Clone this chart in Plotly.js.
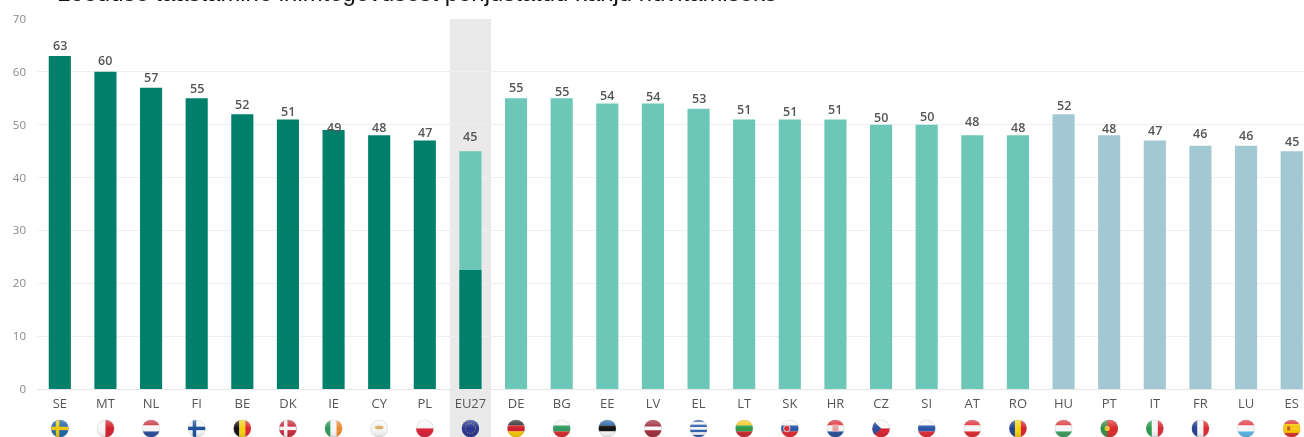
<!DOCTYPE html>
<html><head><meta charset="utf-8">
<script src="https://cdn.plot.ly/plotly-3.0.1.min.js"></script>
<style>html,body{margin:0;padding:0;background:#fff;overflow:hidden}#c{width:1304px;height:437px;filter:blur(0.45px)}</style>
</head><body><div id="c"></div>
<script>
const categories=["SE","MT","NL","FI","BE","DK","IE","CY","PL","EU27","DE","BG","EE","LV","EL","LT","SK","HR","CZ","SI","AT","RO","HU","PT","IT","FR","LU","ES"];
const values=[63,60,57,55,52,51,49,48,47,45,55,55,54,54,53,51,51,51,50,50,48,48,52,48,47,46,46,45];
const euDarkPart=22.5;
const titleText="Looduse taastamine inimtegevusest põhjustatud kahju hüvitamiseks";
const yTicks=[0,10,20,30,40,50,60,70];
const labelLift=[11,11,10,10,10,8,3,8,8,15,11,7,8,7,10,10,8,10,7,8,14,8,9,7,10,12,10,10];
const W="#f6f6f6";
const flagStripes={
SE:["x","#1b66a8","#f2c40c"],MT:["l",W,"#d3212d"],NL:["h","#c8323c",W,"#2a4d9b"],FI:["x",W,"#1d4f9c"],
BE:["v","#111","#f5d20f","#e0252f"],DK:["x","#c8283a",W],IE:["v","#2b9a5a",W,"#ee8a2d"],CY:["h",W],
PL:["h",W,"#d91f35"],EU27:["h","#26348f"],DE:["h","#2a2a2a","#d0202a","#f6c800"],BG:["h",W,"#2f9b5e","#d62a2a"],
EE:["h","#1f63a7","#111",W],LV:["h","#9e2a3a","#9e2a3a",W,"#9e2a3a","#9e2a3a"],EL:["h","#2f5fb0",W,"#2f5fb0",W,"#2f5fb0",W,"#2f5fb0"],LT:["h","#f5c81e","#2f9b4a","#c8282e"],
SK:["h",W,"#2a55a8","#dc2a32"],HR:["h","#dc2a32",W,"#2a4d9b"],CZ:["h",W,"#d6222e"],SI:["h",W,"#2a55a8","#dc2a32"],
AT:["h","#dc2a32",W,"#dc2a32"],RO:["v","#23408f","#f6d20f","#d6222e"],HU:["h","#d8353c",W,"#3c9a5c"],PT:["l","#2f8f45","#dc2a2a"],
IT:["v","#2b9a4e",W,"#dc2a32"],FR:["v","#23408f",W,"#dc2a32"],LU:["h","#e0353c",W,"#5bb4e6"],ES:["h","#d6302a","#f6c400","#f6c400","#d6302a"]};
const dark="#00806a",mid="#6cc7b6",blue="#a2c8d3";
function colorFor(i){return i<9?dark:i<22?mid:blue;}
function flagUri(code){
 const f=flagStripes[code],t=f[0],c=f.slice(1),n=c.length;let b="";
 if(t==="h")b=c.map((k,i)=>`<rect x="0" y="${i*18/n}" width="18" height="${18/n+0.1}" fill="${k}"/>`).join("");
 if(t==="v")b=c.map((k,i)=>`<rect x="${i*18/n}" y="0" width="${18/n+0.1}" height="18" fill="${k}"/>`).join("");
 if(t==="l")b=`<rect width="18" height="18" fill="${c[0]}"/><rect x="${code==='PT'?7:9}" width="11" height="18" fill="${c[1]}"/>`;
 if(t==="x")b=`<rect width="18" height="18" fill="${c[0]}"/><rect x="5" width="3.5" height="18" fill="${c[1]}"/><rect y="7.2" width="18" height="3.5" fill="${c[1]}"/>`;
 if(code==="CZ")b+=`<path d="M0 0L9 9L0 18Z" fill="#2a4d9b"/>`;
 if(code==="CY")b+=`<ellipse cx="9" cy="8" rx="4.5" ry="2" fill="#d9b26a"/>`;
 if(code==="EU27")b+=`<circle cx="9" cy="9" r="5" fill="none" stroke="#c9b84a" stroke-width="0.8" stroke-dasharray="1 1.6"/>`;
 if(code==="SK")b+=`<circle cx="6" cy="9" r="3.2" fill="#dc2a32" stroke="${W}" stroke-width=".8"/>`;
 if(code==="HR")b+=`<rect x="6" y="5" width="6" height="7" fill="#e8a0a0"/>`;
 if(code==="PT")b+=`<circle cx="7" cy="9" r="2.6" fill="#e8c33a"/>`;
 if(code==="ES")b+=`<rect x="4.5" y="7" width="3" height="4" fill="#c8502a"/>`;
 const s=`<svg xmlns="http://www.w3.org/2000/svg" width="18" height="18" viewBox="0 0 18 18"><defs><clipPath id="k"><circle cx="9" cy="9" r="8.8"/></clipPath><linearGradient id="g" x1="0" y1="0" x2="0" y2="1"><stop offset="0" stop-color="#fff" stop-opacity=".35"/><stop offset=".5" stop-color="#fff" stop-opacity="0"/><stop offset="1" stop-color="#000" stop-opacity=".12"/></linearGradient></defs><g clip-path="url(#k)">${b}<rect width="18" height="18" fill="url(#g)"/></g><circle cx="9" cy="9" r="8.6" fill="none" stroke="#999" stroke-opacity=".35" stroke-width=".6"/></svg>`;
 return "data:image/svg+xml;base64,"+btoa(s);
}
const bars={type:"bar",x:categories,y:values,width:0.485,marker:{color:categories.map((c,i)=>colorFor(i)),line:{width:0}},hoverinfo:"none"};
const euBar={type:"bar",x:["EU27"],y:[euDarkPart],width:0.485,marker:{color:dark,line:{width:0}},hoverinfo:"none"};
const valueNotes=categories.map((c,i)=>({xref:"x",yref:"y",x:c,y:values[i],yshift:labelLift[i],xanchor:"center",yanchor:"middle",showarrow:false,text:String(values[i]),font:{family:"Open Sans",size:12.5,color:"#555555",weight:600}}));
const titleNote={xref:"paper",yref:"paper",x:0,xshift:18,y:1,yshift:11,xanchor:"left",yanchor:"bottom",showarrow:false,text:titleText,font:{family:"Liberation Sans",size:23.9,color:"#111"}};
const layout={width:1304,height:437,margin:{l:36.5,r:0,t:19,b:47.5},paper_bgcolor:"#fff",plot_bgcolor:"#fff",showlegend:false,barmode:"overlay",
 font:{family:"Open Sans",color:"#666"},
 xaxis:{type:"category",categoryorder:"array",categoryarray:categories,range:[-0.5,27.27],tickfont:{family:"Open Sans",size:13,color:"#555"},ticks:"",ticklabelstandoff:2,showgrid:false,zeroline:false,showline:true,linecolor:"#e6e6e6",linewidth:1,fixedrange:true,automargin:false},
 yaxis:{range:[0,70],tickvals:yTicks,ticktext:yTicks.map(String),tickfont:{family:"Open Sans",size:11.5,color:"#888"},ticklabelstandoff:10,gridcolor:"#efefef",gridwidth:1,zeroline:false,showline:false,ticks:"",fixedrange:true,automargin:false},
 shapes:[{type:"rect",layer:"below",xref:"x",yref:"paper",x0:8.55,x1:9.45,y0:-0.14,y1:1,fillcolor:"#e9e9e9",line:{width:0}}],
 annotations:[titleNote].concat(valueNotes),
 images:categories.map(c=>({source:flagUri(c),xref:"x",yref:"paper",x:c,y:-0.1066,sizex:1,sizey:0.0486,sizing:"contain",xanchor:"center",yanchor:"middle",layer:"above"}))
};
Plotly.newPlot("c",[bars,euBar],layout,{staticPlot:true,displayModeBar:false});
</script></body></html>
